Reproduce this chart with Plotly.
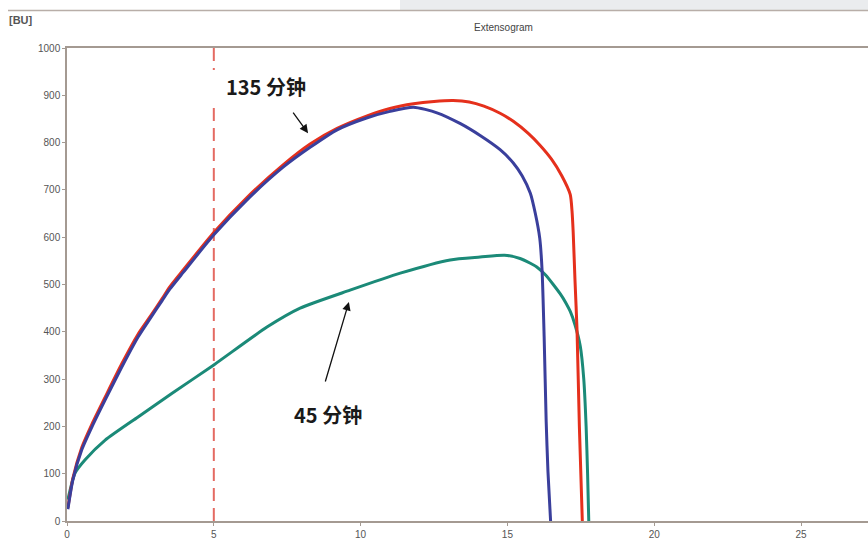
import plotly.graph_objects as go

# ---- data ----
blue_x = [0.03, 0.2, 0.5, 0.85, 1.3, 1.87, 2.42, 2.83, 3.24, 3.5, 3.95, 5.0, 6.13, 7.36, 8.28, 9.2, 10.2,
          11.0, 11.8, 12.6, 13.4, 14.07, 14.75, 15.2, 15.5, 15.78, 15.95, 16.1, 16.18, 16.25, 16.32,
          16.38, 16.47]
blue_y = [25, 87, 150, 199, 256, 326, 389, 428, 466, 490, 525, 605, 679, 748, 790, 827, 852,
          866, 875, 863, 840, 815, 785, 757, 730, 693, 650, 598, 530, 390, 210, 105, 0]

red_x = [0.03, 0.2, 0.5, 0.85, 1.3, 1.87, 2.42, 2.83, 3.24, 3.5, 3.95, 5.0, 6.13, 7.36, 8.28, 9.2, 10.2,
         11.0, 11.8, 12.5, 13.15, 13.7, 14.2, 14.75, 15.2, 15.7, 16.1, 16.5, 16.85, 17.14, 17.2, 17.24,
         17.3, 17.37, 17.45, 17.55]
red_y = [28, 90, 155, 205, 262, 333, 395, 432, 470, 495, 530, 610, 684, 753, 797, 830, 856,
         872, 882, 887, 889, 886, 877, 862, 845, 820, 795, 765, 730, 690, 655, 610,
         510, 404, 200, 0]

teal_x = [0.03, 0.27, 0.61, 1.3, 2.42, 3.58, 5.0, 6.81, 7.94, 9.64, 11.35, 13.05, 14.07, 14.9, 15.43,
          15.78, 16.0, 16.3, 16.56, 16.8, 17.0, 17.14, 17.3, 17.48, 17.6, 17.68, 17.73, 17.77]
teal_y = [45, 101, 129, 171, 220, 270, 330, 410, 450, 488, 524, 552, 558, 562, 555,
          545, 537, 520, 500, 480, 460, 443, 415, 370, 300, 200, 100, 0]

x_ticks = [0, 5, 10, 15, 20, 25]
y_ticks = [0, 100, 200, 300, 400, 500, 600, 700, 800, 900, 1000]

label_135 = "135 分钟"
label_45 = "45 分钟"
title_text = "Extensogram"
unit_text = "[BU]"
marker_x = 5

W, H = 868, 543
PL, PT, PR, PB = 67, 48, 868, 521          # plot area in window pixels
L, T, R, B = PL, PT, W - PR, H - PB
XMAX = 27.28


def px_to_paper_x(px):
    return (px - PL) / (PR - PL)


def py_to_paper_y(py):
    return (PB - py) / (PB - PT)


fig = go.Figure()
line_shape = dict(shape="spline", smoothing=0.6)
fig.add_trace(go.Scatter(x=teal_x, y=teal_y, mode="lines",
                         line=dict(color="#1b8a78", width=3, **line_shape), showlegend=False))
fig.add_trace(go.Scatter(x=red_x, y=red_y, mode="lines",
                         line=dict(color="#e5301c", width=3, **line_shape), showlegend=False))
fig.add_trace(go.Scatter(x=blue_x, y=blue_y, mode="lines",
                         line=dict(color="#3a3f9c", width=3, **line_shape), showlegend=False))

axis_col = "#a49a92"
tick_font = dict(family="Liberation Sans, Arial, sans-serif", size=10, color="#555555")

fig.update_xaxes(range=[0, XMAX], tickvals=x_ticks, showgrid=False, zeroline=False,
                 showline=True, linecolor=axis_col, linewidth=1.5, mirror=True,
                 ticks="outside", ticklen=3, tickcolor=axis_col, tickfont=tick_font,
                 automargin=False)
fig.update_yaxes(range=[0, 1000], tickvals=y_ticks, showgrid=False, zeroline=False,
                 showline=True, linecolor=axis_col, linewidth=1.5,
                 ticks="outside", ticklen=3, tickcolor=axis_col, tickfont=tick_font,
                 automargin=False)

# dashed vertical marker
fig.add_shape(type="line", xref="x", yref="paper", x0=marker_x, x1=marker_x, y0=0, y1=1,
              line=dict(color="#e46a62", width=2, dash="13px,7px"), layer="below")

# white box behind the 135 label (covers the dashed line)
fig.add_shape(type="rect", xref="paper", yref="paper",
              x0=px_to_paper_x(120), x1=px_to_paper_x(330),
              y0=py_to_paper_y(103), y1=py_to_paper_y(70),
              fillcolor="white", line=dict(width=0), layer="above")

# top window strip and header line
fig.add_shape(type="rect", xref="paper", yref="paper",
              x0=px_to_paper_x(400), x1=px_to_paper_x(868),
              y0=py_to_paper_y(10), y1=py_to_paper_y(0),
              fillcolor="#eaecee", line=dict(width=0), layer="below")
fig.add_shape(type="line", xref="paper", yref="paper",
              x0=px_to_paper_x(8), x1=px_to_paper_x(868),
              y0=py_to_paper_y(10.5), y1=py_to_paper_y(10.5),
              line=dict(color="#b8aea8", width=1.5))

lab_font = dict(family="Noto Sans CJK SC, sans-serif", size=20, color="#1a1a1a")

fig.add_annotation(xref="paper", yref="paper", x=px_to_paper_x(266), y=py_to_paper_y(86),
                   xanchor="center", yanchor="middle",
                   text="<b>" + label_135 + "</b>", showarrow=False, font=lab_font)
fig.add_annotation(xref="paper", yref="paper", x=px_to_paper_x(328), y=py_to_paper_y(414),
                   xanchor="center", yanchor="middle",
                   text="<b>" + label_45 + "</b>", showarrow=False, font=lab_font)

# arrows
fig.add_annotation(x=8.21, y=820, xref="x", yref="y", ax=-16, ay=-22, text="",
                   showarrow=True, arrowhead=2, arrowsize=1.3, arrowwidth=1.3, arrowcolor="#111111")
fig.add_annotation(x=9.6, y=463, xref="x", yref="y", ax=-24, ay=81, text="",
                   showarrow=True, arrowhead=2, arrowsize=1.3, arrowwidth=1.3, arrowcolor="#111111")

fig.add_annotation(xref="paper", yref="paper", x=px_to_paper_x(503), y=py_to_paper_y(28),
                   xanchor="center", yanchor="middle",
                   text=title_text, showarrow=False,
                   font=dict(family="Liberation Sans, Arial, sans-serif", size=10, color="#444444"))
fig.add_annotation(xref="paper", yref="paper", x=px_to_paper_x(7), y=py_to_paper_y(20),
                   xanchor="left", yanchor="middle", text="<b>" + unit_text + "</b>", showarrow=False,
                   font=dict(family="Liberation Sans, Arial, sans-serif", size=11, color="#555555"))

fig.update_layout(width=W, height=H, margin=dict(l=L, r=R, t=T, b=B),
                  plot_bgcolor="white", paper_bgcolor="white")

fig.write_html("out.html", config={"displayModeBar": False},
               post_script="document.body.style.margin='0';document.body.style.overflow='hidden';")
